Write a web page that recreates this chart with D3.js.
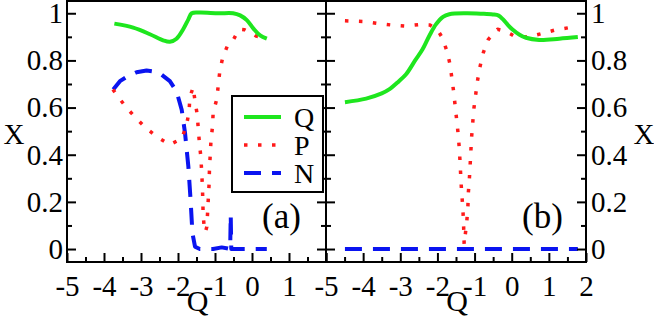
<!DOCTYPE html>
<html>
<head>
<meta charset="utf-8">
<script src="https://cdn.jsdelivr.net/npm/d3@7"></script>
<style>
  body { margin: 0; background: #fff; }
  svg text { font-family: "Liberation Serif", "Times New Roman", serif; fill: #000; }
</style>
</head>
<body>
<svg id="chart" width="654" height="318"></svg>
<script>
// two panels, same axes: Q on x, X on y

// panel (a)
var qA = [[-3.72,0.956],[-3.21,0.939],[-2.76,0.911],[-2.4,0.885],[-2.22,0.879],[-2.04,0.892],
          [-1.86,0.932],[-1.72,0.974],[-1.63,1.0],[-1.41,1.003],[-0.9,1.0],[-0.51,1.0],[-0.32,0.991],
          [-0.14,0.971],[0.04,0.935],[0.22,0.906],[0.4,0.892]];
var pA = [[-3.76,0.677],[-3.61,0.644],[-3.39,0.599],[-3.12,0.553],[-2.85,0.511],[-2.55,0.474],
          [-2.22,0.443],[-1.9,0.468],[-1.77,0.525],[-1.7,0.584],[-1.68,0.644],[-1.59,0.686],
          [-1.54,0.627],[-1.48,0.57],[-1.45,0.506],[-1.42,0.447],[-1.38,0.387],[-1.36,0.325],
          [-1.34,0.265],[-1.33,0.206],[-1.32,0.145],[-1.29,0.089],[-1.26,0.072],[-1.22,0.095],
          [-1.2,0.155],[-1.18,0.216],[-1.16,0.275],[-1.15,0.336],[-1.13,0.396],[-1.11,0.457],
          [-1.07,0.516],[-1.05,0.577],[-0.95,0.637],[-0.91,0.698],[-0.87,0.754],[-0.79,0.814],
          [-0.64,0.871],[-0.5,0.889],[-0.35,0.932],[-0.2,0.93],[-0.05,0.918],[0.04,0.911],
          [0.11,0.903],[0.4,0.895]];
var nA = [[-3.75,0.677],[-3.57,0.712],[-3.39,0.73],[-3.12,0.75],[-2.85,0.757],[-2.53,0.75],
          [-2.22,0.712],[-2.04,0.669],[-1.9,0.591],[-1.81,0.492],[-1.72,0.35],[-1.66,0.209],
          [-1.61,0.067],[-1.54,0.01],[-1.41,0],[-1.05,0],[-0.82,0.007],[-0.65,0.002],
          [-0.59,0],[-0.575,0.145],[-0.56,0],[-0.3,0],[0.4,0]];

// panel (b)
var qB = [[-4.49,0.623],[-3.92,0.638],[-3.5,0.66],[-3.3,0.677],[-3.05,0.71],[-2.85,0.74],
          [-2.6,0.8],[-2.4,0.847],[-2.2,0.91],[-2.04,0.953],[-1.85,0.985],[-1.68,0.996],
          [-1.23,1.0],[-0.8,0.998],[-0.51,0.995],[-0.35,0.99],[-0.24,0.975],[-0.1,0.95],
          [0.03,0.93],[0.2,0.91],[0.385,0.896],[0.74,0.887],[1.28,0.892],[1.78,0.899]];
var pB = [[-4.49,0.968],[-4.0,0.965],[-3.63,0.957],[-3.23,0.95],[-2.86,0.946],[-2.49,0.952],
          [-2.2,0.95],[-2.0,0.93],[-1.88,0.899],[-1.75,0.843],[-1.66,0.783],[-1.61,0.723],
          [-1.56,0.663],[-1.52,0.603],[-1.48,0.545],[-1.44,0.485],[-1.41,0.424],[-1.39,0.365],
          [-1.37,0.303],[-1.35,0.244],[-1.32,0.183],[-1.3,0.123],[-1.28,0.02],[-1.21,0.116],
          [-1.18,0.176],[-1.17,0.234],[-1.14,0.297],[-1.12,0.354],[-1.1,0.414],[-1.08,0.475],
          [-1.05,0.535],[-1.02,0.594],[-0.97,0.655],[-0.92,0.715],[-0.85,0.776],[-0.76,0.835],
          [-0.63,0.889],[-0.38,0.932],[-0.2,0.925],[-0.04,0.913],[0.07,0.903],[0.43,0.899],
          [0.79,0.913],[1.17,0.929],[1.55,0.939],[1.78,0.945]];
var nB = [[-4.49,0],[1.78,0]];

var xMajor = [-5,-4,-3,-2,-1,0,1,2],
    xMinor = [-4.5,-3.5,-2.5,-1.5,-0.5,0.5,1.5],
    yMajor = [0,0.2,0.4,0.6,0.8,1],
    yMinor = [0.1,0.3,0.5,0.7,0.9];
var legendNames = ["Q","P","N"];

var green = "#1ee61e", red = "#ff1a1a", blue = "#0a14f0";
var styles = {
  Q: {color: green, width: 4, dash: null},
  P: {color: red, width: 3.5, dash: "3.5,10.5"},
  N: {color: blue, width: 4, dash: "17,11"}
};

var svg = d3.select("#chart");
var frameTop = 1, frameBottom = 262;

var y = d3.scaleLinear().domain([-0.055, 1.052]).range([frameBottom, frameTop]);

var panels = [
  {left: 67, right: 326, label: "(a)", series: {Q: qA, P: pA, N: nA}, yLabels: "left", xLabels: xMajor.slice(0,7)},
  {left: 326, right: 586, label: "(b)", series: {Q: qB, P: pB, N: nB}, yLabels: "right", xLabels: xMajor}
];

var fmt = function(d){ return d === 0 || d === 1 ? String(d) : d3.format(".1f")(d); };

panels.forEach(function(p, i){
  var x = d3.scaleLinear().domain([-5, 2]).range([p.left, p.right]);
  var g = svg.append("g");

  var line = d3.line()
    .x(function(d){ return x(d[0]); })
    .y(function(d){ return y(d[1]); });

  // curves: green smooth, others straight between read points
  ["N","P","Q"].forEach(function(k){
    var s = styles[k];
    g.append("path")
      .datum(p.series[k])
      .attr("fill", "none")
      .attr("stroke", s.color)
      .attr("stroke-width", s.width)
      .attr("stroke-dasharray", s.dash)
      .attr("stroke-linejoin", "round")
      .attr("d", k == "Q" ? line.curve(d3.curveCatmullRom.alpha(0.5))(p.series[k]) : line.curve(d3.curveLinear)(p.series[k]));
  });

  // x axis, ticks pointing in
  g.append("g").attr("transform", "translate(0," + frameBottom + ")")
    .call(d3.axisBottom(x).tickValues(xMajor).tickSize(-9).tickPadding(13)
      .tickFormat(function(d){ return p.xLabels.indexOf(d) >= 0 ? d : ""; }));
  g.append("g").attr("transform", "translate(0," + frameBottom + ")")
    .call(d3.axisBottom(x).tickValues(xMinor).tickSize(-5).tickFormat(""));

  // y axes both sides
  g.append("g").attr("transform", "translate(" + p.left + ",0)")
    .call(d3.axisLeft(y).tickValues(yMajor).tickSize(-9).tickPadding(4)
      .tickFormat(p.yLabels == "left" ? fmt : ""));
  g.append("g").attr("transform", "translate(" + p.left + ",0)")
    .call(d3.axisLeft(y).tickValues(yMinor).tickSize(-5).tickFormat(""));
  g.append("g").attr("transform", "translate(" + p.right + ",0)")
    .call(d3.axisRight(y).tickValues(yMajor).tickSize(-9).tickPadding(5)
      .tickFormat(p.yLabels == "right" ? fmt : ""));
  g.append("g").attr("transform", "translate(" + p.right + ",0)")
    .call(d3.axisRight(y).tickValues(yMinor).tickSize(-5).tickFormat(""));

  g.selectAll(".domain").remove();
  g.selectAll(".tick line").attr("stroke", "#000").attr("stroke-width", 2);
  g.selectAll(".tick text").attr("font-size", 29);

  // frame
  g.append("rect")
    .attr("x", p.left).attr("y", frameTop)
    .attr("width", p.right - p.left).attr("height", frameBottom - frameTop)
    .attr("fill", "none").attr("stroke", "#000").attr("stroke-width", 2);

  // axis titles
  g.append("text")
    .attr("x", (p.left + p.right) / 2 + 1).attr("y", 311)
    .attr("text-anchor", "middle").attr("font-size", 30)
    .text("Q");
  g.append("text")
    .attr("x", i == 0 ? 14 : 644).attr("y", 144)
    .attr("text-anchor", "middle").attr("font-size", 29)
    .text("X");

  g.append("text")
    .attr("x", p.left + (i == 0 ? 195 : 196)).attr("y", 228)
    .attr("font-size", 35)
    .text(p.label);
});

// legend in panel (a)
var lg = svg.append("g");
lg.append("rect").attr("x", 232).attr("y", 96).attr("width", 91).attr("height", 96)
  .attr("fill", "#fff").attr("stroke", "#000").attr("stroke-width", 2);
legendNames.forEach(function(k, j){
  var s = styles[k], ly = 117 + j * 28;
  lg.append("line").attr("x1", 244).attr("x2", 281).attr("y1", ly).attr("y2", ly)
    .attr("stroke", s.color).attr("stroke-width", s.width).attr("stroke-dasharray", s.dash);
  lg.append("text").attr("x", 294).attr("y", ly + 10).attr("font-size", 28).text(k);
});
</script>
</body>
</html>
